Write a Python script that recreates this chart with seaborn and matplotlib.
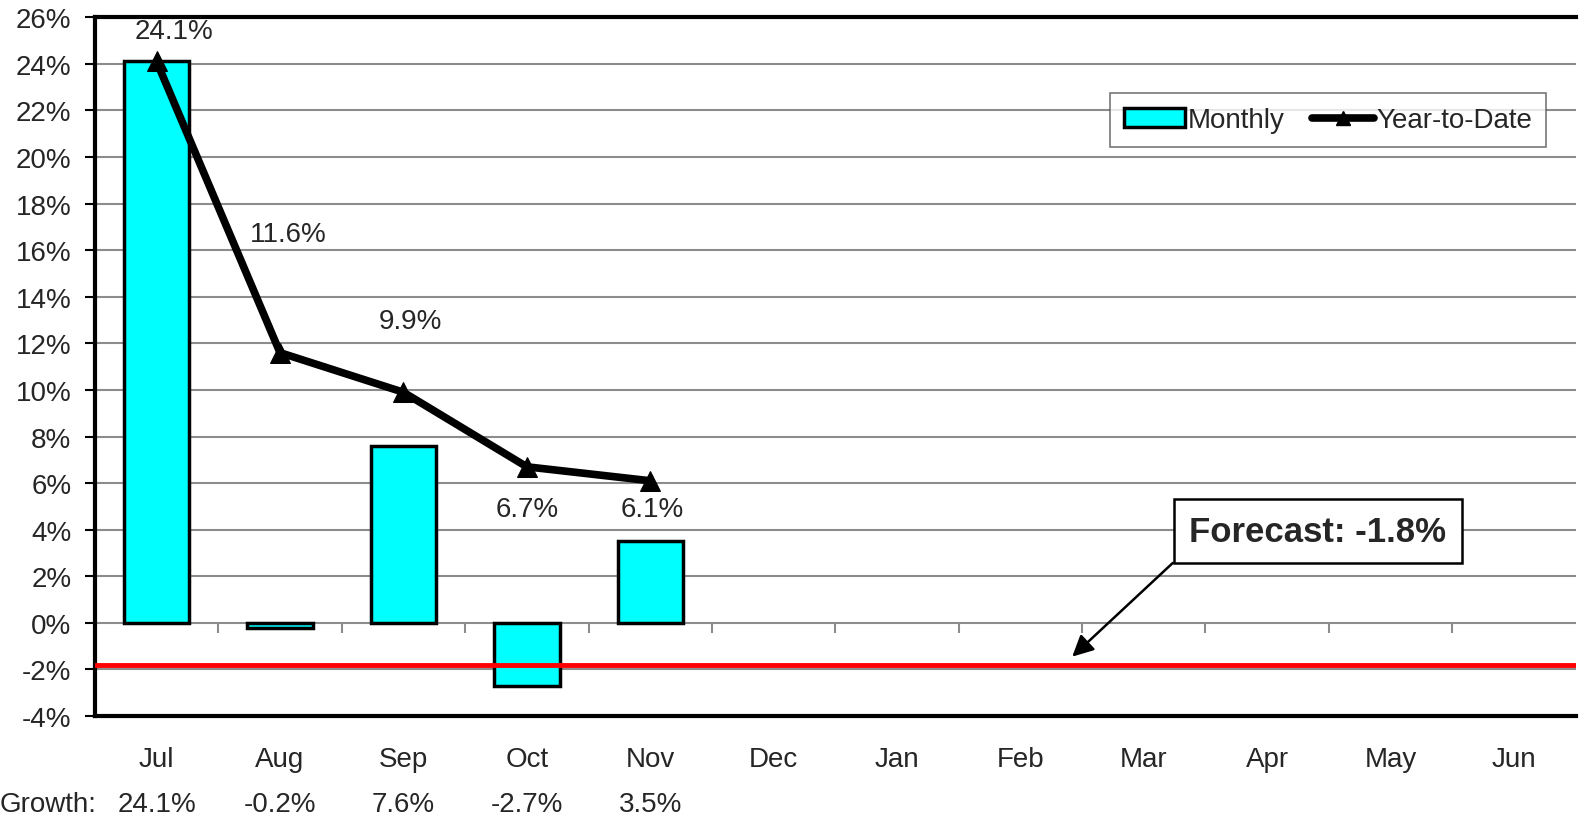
import numpy as np
import pandas as pd
import matplotlib
matplotlib.use("Agg")
import matplotlib.pyplot as plt
import seaborn as sns
from matplotlib.patches import Patch
from matplotlib.lines import Line2D
import matplotlib.transforms as mtransforms

months = ["Jul", "Aug", "Sep", "Oct", "Nov", "Dec", "Jan", "Feb", "Mar", "Apr", "May", "Jun"]
monthly = [24.1, -0.2, 7.6, -2.7, 3.5]
ytd = [24.1, 11.6, 9.9, 6.7, 6.1]
forecast = -1.8
growth_labels = ["24.1%", "-0.2%", "7.6%", "-2.7%", "3.5%"]

# label offsets (x, y in data units) for the year-to-date values
label_dx = [0.14, 0.07, 0.06, 0.0, 0.02]
label_dy = [1.3, 5.1, 3.05, -1.8, -1.2]

sns.set_style("white")
plt.rcParams['font.family'] = ['Liberation Sans', 'DejaVu Sans']
FS = 20

fig = plt.figure(figsize=(15.82, 8.28), dpi=100)
ax = fig.add_axes([0.060, 0.134, 0.936, 0.844])

df = pd.DataFrame({"month": months, "value": monthly + [np.nan] * (len(months) - len(monthly))})
sns.barplot(data=df, x="month", y="value", order=months, color="#00ffff", saturation=1,
            edgecolor="black", linewidth=2.5, width=0.53, errorbar=None, ax=ax)

# grid lines
ax.set_ylim(-4, 26)
ax.set_xlim(-0.5, 11.5)
ax.set_yticks(np.arange(-4, 27, 2))
ax.set_yticklabels([f"{v}%" for v in range(-4, 27, 2)])
ax.grid(axis="y", color="#8c8c8c", linewidth=1.5)
ax.set_axisbelow(True)

# category ticks at zero line
ax.vlines(np.arange(0.5, len(months) - 0.5), -0.45, 0, color="#8c8c8c", linewidth=1.5, zorder=1)

ax.axhline(forecast, color="red", linewidth=3.5, zorder=4)

x_ytd = np.arange(len(ytd))
sns.lineplot(x=x_ytd, y=ytd, color="black", linewidth=5.5, marker="^", markersize=15,
             markeredgecolor="black", sort=False, ax=ax, zorder=5)

for i, v in enumerate(ytd):
    ax.text(i + label_dx[i], v + label_dy[i], f"{v}%", ha="center", va="center", fontsize=FS)

ax.annotate("Forecast: -1.8%", xy=(7.42, -1.45), xytext=(9.41, 3.94),
            ha="center", va="center", fontsize=25, fontweight="bold",
            bbox=dict(boxstyle="square,pad=0.45", fc="white", ec="black", lw=1.8),
            arrowprops=dict(arrowstyle="-|>", color="black", lw=1.8, mutation_scale=32,
                            shrinkA=0, shrinkB=0, relpos=(0, 0)))

ax.set_xlabel("")
ax.set_ylabel("")
for s in ["left", "top", "bottom"]:
    ax.spines[s].set_linewidth(3)
    ax.spines[s].set_color("black")
ax.spines["right"].set_visible(False)
ax.tick_params(axis="y", left=True, length=7, width=1.5, color="black", pad=10, labelsize=FS)
ax.tick_params(axis="x", bottom=False, pad=18, labelsize=FS)

handles = [Patch(facecolor="#00ffff", edgecolor="black", linewidth=2.5),
           Line2D([0], [0], color="black", linewidth=5.5, marker="^", markersize=10)]
leg = ax.legend(handles, ["Monthly", "Year-to-Date"], ncol=2, loc="upper right",
                bbox_to_anchor=(0.98, 0.891), borderaxespad=0, fontsize=FS, frameon=True,
                fancybox=False, edgecolor="#555555", handlelength=2.2, handletextpad=0.1,
                columnspacing=1.0, borderpad=0.5)
leg.get_frame().set_linewidth(1.2)

trans = mtransforms.blended_transform_factory(ax.transData, ax.transAxes)
for i, g in enumerate(growth_labels):
    ax.text(i, -0.126, g, transform=trans, ha="center", va="center", fontsize=FS)
fig.text(0.0, 1 - 805 / 828, "Growth:", ha="left", va="center", fontsize=FS)

fig.savefig("out.png", dpi=100)
